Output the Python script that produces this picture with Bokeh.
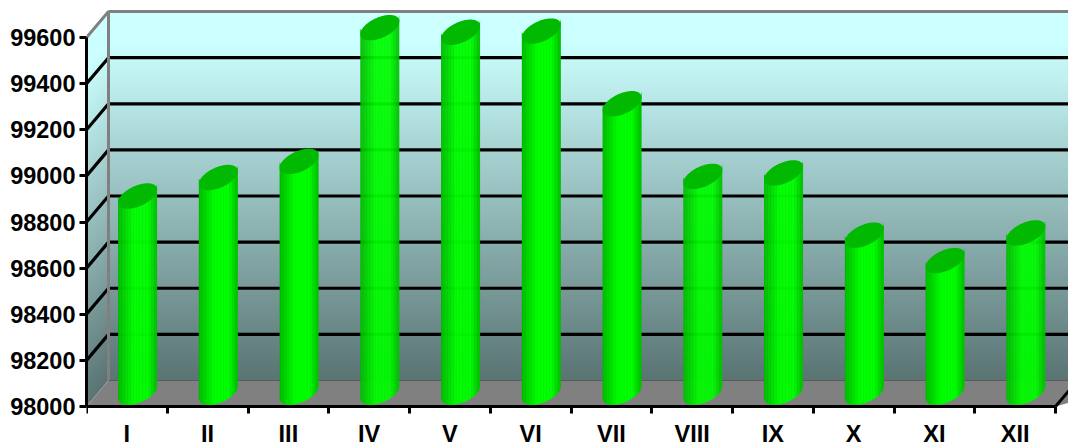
import numpy as np
from bokeh.plotting import figure
from bokeh.models import Range1d, LinearAxis, FixedTicker
from bokeh.embed import file_html
from bokeh.resources import INLINE

months = ["I", "II", "III", "IV", "V", "VI", "VII", "VIII", "IX", "X", "XI", "XII"]
values = [98850, 98930, 99000, 99580, 99560, 99565, 99250, 98935, 98950, 98680, 98570, 98690]
y_ticks = [98000, 98200, 98400, 98600, 98800, 99000, 99200, 99400, 99600]

PX_X = 80.75   # pixels per category
PX_Y = 0.2306  # pixels per value unit
W, H = 1068, 445
LEFT, BASE = 86, 406
DX = 22 / PX_X   # depth of the box, x units
DY = 26 / PX_Y   # depth of the box, y units
XMAX = (W - LEFT) / PX_X
YMIN, YMAX = 98000, 98000 + BASE / PX_Y
VIEW_MIN = YMIN - (H - BASE) / PX_Y
YTOP = 99600
FONT = "Liberation Sans"


def wall_colour(t):
    top = np.array([204, 255, 255])
    bottom = np.array([90, 115, 115])
    t = max(0.0, (t - 0.08) / 0.92)
    c = top + (bottom - top) * t
    return "#%02x%02x%02x" % tuple(int(round(v)) for v in c)


p = figure(width=W, height=H, output_backend="svg", toolbar_location=None,
           x_range=Range1d(0, XMAX), y_range=Range1d(VIEW_MIN, YMAX),
           x_axis_location=None, y_axis_location=None,
           min_border_left=LEFT, min_border_right=0, min_border_top=0, min_border_bottom=0,
           background_fill_color="white", border_fill_color="white", outline_line_color=None)
p.grid.visible = False

# back and side walls, banded gradient
N = 110
edges = np.linspace(YMIN, YTOP, N + 1)
for i in range(N):
    col = wall_colour(1 - (i + 0.5) / N)
    lo, hi = edges[i], edges[i + 1] + (YTOP - YMIN) / N * 0.5
    hi = min(hi, YTOP)
    p.quad(left=DX, right=XMAX + 1, bottom=lo + DY, top=hi + DY, fill_color=col, line_color=None)
    p.patch([0, DX, DX, 0], [lo, lo + DY, hi + DY, hi], fill_color=col, line_color=None)

# floor
p.patch([0, DX, XMAX + 1, 12], [YMIN, YMIN + DY, YMIN + DY, YMIN], fill_color="#808080", line_color=None)

# grid lines on walls
for v in y_ticks[1:-1]:
    p.line([DX, XMAX + 1], [v + DY, v + DY], line_color="black", line_width=3.2)
    p.line([0, DX], [v, v + DY], line_color="black", line_width=3.2)

# wall borders
p.line([0, DX, DX], [YTOP, YTOP + DY, YMIN + DY], line_color="#808080", line_width=3)
p.line([DX, XMAX + 1], [YTOP + DY, YTOP + DY], line_color="#808080", line_width=3)
p.line([DX, XMAX + 1], [YMIN + DY, YMIN + DY], line_color="#5a5a5a", line_width=1)
p.line([0, DX], [YMIN, YMIN + DY], line_color="#9a9a9a", line_width=1)
p.line([12, 12 + DX], [YMIN, YMIN + DY], line_color="black", line_width=3)

# cylinders
A, B, C = 16.8 / PX_X, 9.9 / PX_X, 12.7 / PX_Y
HALF = np.hypot(A, B)
t = np.linspace(0, 2 * np.pi, 181)
OFF_X = 10.7 / PX_X
OFF_Y = 14.5 / PX_Y


def lower_arc(xs):
    ex = A * np.cos(t) + B * np.sin(t)
    ey = C * np.sin(t)
    res = []
    for x in xs:
        d = np.abs(ex - x)
        idx = np.argsort(d)[:6]
        res.append(ey[idx].min())
    return np.array(res)


S = 39
strip = np.linspace(-HALF, HALF, S + 1)
low = lower_arc(strip)


def strip_colour(u, j):
    g = u / 0.62 if u < 0.62 else 1 - (u - 0.62) / 0.38
    level = 190 + (255 - 190) * min(1.0, g * 1.6)
    if j % 3 == 0:
        level -= 10
    return "#00%02x00" % int(level)


for i, v in enumerate(values):
    cx = i + 0.5 + OFF_X
    cy = v + OFF_Y
    y0 = YMIN + OFF_Y
    for j in range(S):
        xa, xb = cx + strip[j], min(cx + strip[j + 1] + 0.006, cx + HALF)
        p.patch([xa, xb, xb, xa],
                [y0 + low[j], y0 + low[j + 1], cy + low[j + 1] + 0.5 * C, cy + low[j] + 0.5 * C],
                fill_color=strip_colour((j + 0.5) / S, j), line_color=None)
    p.patch(cx + A * np.cos(t) + B * np.sin(t), cy + C * np.sin(t),
            fill_color="#00b900", line_color=None)

# axes
yax = LinearAxis(ticker=FixedTicker(ticks=y_ticks), bounds=(YMIN, YTOP))
yax.axis_line_color = "black"
yax.axis_line_width = 3
yax.major_tick_line_color = "black"
yax.major_tick_line_width = 3
yax.major_tick_in = 0
yax.major_tick_out = 7
yax.minor_tick_line_color = None
yax.major_label_standoff = 4
yax.major_label_text_font = FONT
yax.major_label_text_font_style = "bold"
yax.major_label_text_font_size = "23.5px"
yax.major_label_text_color = "black"
p.add_layout(yax, "left")

centers = [i + 0.5 for i in range(12)]
xax = LinearAxis(ticker=FixedTicker(ticks=centers, minor_ticks=list(range(13))), bounds=(0, 12),
                 major_label_overrides={c: m for c, m in zip(centers, months)},
                 fixed_location=YMIN)
xax.axis_line_color = "black"
xax.axis_line_width = 3
xax.major_tick_line_color = None
xax.major_tick_in = 0
xax.major_tick_out = 7
xax.minor_tick_line_color = "black"
xax.minor_tick_line_width = 3
xax.minor_tick_in = 0
xax.minor_tick_out = 7
xax.major_label_standoff = 7
xax.major_label_text_font = FONT
xax.major_label_text_font_style = "bold"
xax.major_label_text_font_size = "23.5px"
xax.major_label_text_color = "black"
p.add_layout(xax, "below")

open("out.html", "w").write(file_html(p, INLINE))
